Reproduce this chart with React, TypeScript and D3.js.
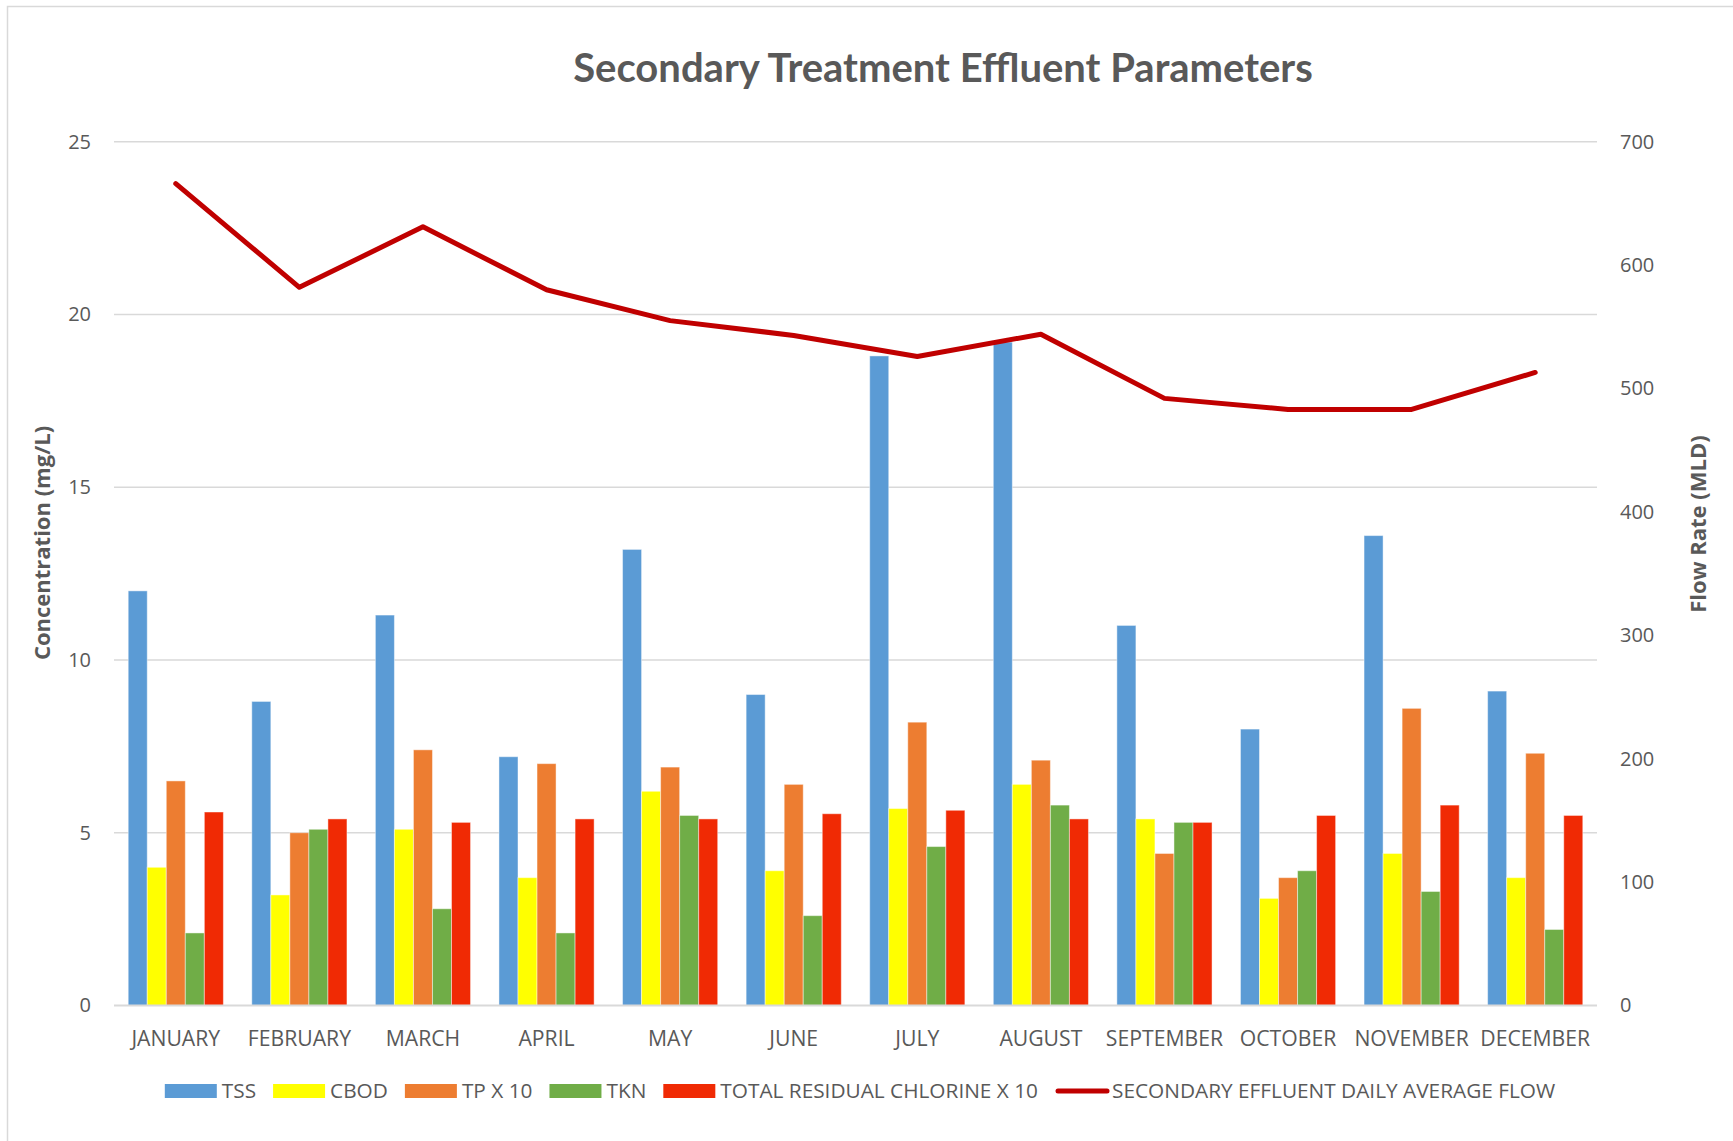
import { axisLeft, axisRight, line as Line, scaleBand, scaleLinear, select } from "d3";
import React, { useEffect, useRef } from "react";

const months = [
  "JANUARY", "FEBRUARY", "MARCH", "APRIL", "MAY", "JUNE",
  "JULY", "AUGUST", "SEPTEMBER", "OCTOBER", "NOVEMBER", "DECEMBER",
];

const tss = [12.0, 8.8, 11.3, 7.2, 13.2, 9.0, 18.8, 19.2, 11.0, 8.0, 13.6, 9.1];
const cbod = [4.0, 3.2, 5.1, 3.7, 6.2, 3.9, 5.7, 6.4, 5.4, 3.1, 4.4, 3.7];
const tpX10 = [6.5, 5.0, 7.4, 7.0, 6.9, 6.4, 8.2, 7.1, 4.4, 3.7, 8.6, 7.3];
const tkn = [2.1, 5.1, 2.8, 2.1, 5.5, 2.6, 4.6, 5.8, 5.3, 3.9, 3.3, 2.2];
const chlorineX10 = [5.6, 5.4, 5.3, 5.4, 5.4, 5.55, 5.65, 5.4, 5.3, 5.5, 5.8, 5.5];
const flow = [666, 582, 631, 580, 555, 543, 526, 544, 492, 483, 483, 513];

const leftTicks = [0, 5, 10, 15, 20, 25];
const rightTicks = [0, 100, 200, 300, 400, 500, 600, 700];

const seriesNames = ["TSS", "CBOD", "TP X 10", "TKN", "TOTAL RESIDUAL CHLORINE X 10"];
const seriesColors = ["#5B9BD5", "#FFFF00", "#ED7D31", "#70AD47", "#F02A04"];
const seriesValues = [tss, cbod, tpX10, tkn, chlorineX10];
const lineName = "SECONDARY EFFLUENT DAILY AVERAGE FLOW";
const lineColor = "#C00000";

const W = 1733;
const H = 1141;
const TEXT = "#595959";
const GRID = "#D9D9D9";
const LABEL_FONT = "'Open Sans', sans-serif";
const TITLE_FONT = "Lato, 'Open Sans', sans-serif";

const App: React.FC = () => {
  const ref = useRef<SVGSVGElement>(null);

  useEffect(() => {
    const svg = select(ref.current);
    const margin = { left: 114, right: W - 1597, top: 141.7, bottom: H - 1005.5 };

    const x0 = scaleBand<string>()
      .domain(months)
      .range([margin.left, W - margin.right])
      .paddingInner(0.23)
      .paddingOuter(0.115);
    const x1 = scaleBand<number>()
      .domain(seriesNames.map((_, i) => i))
      .range([0, x0.bandwidth()]);
    const yLeft = scaleLinear().domain([0, 25]).range([H - margin.bottom, margin.top]);
    const yRight = scaleLinear().domain([0, 700]).range([H - margin.bottom, margin.top]);

    const root = svg.append("g");

    // chart frame
    root
      .append("rect")
      .attr("x", 7.5)
      .attr("y", 6.5)
      .attr("width", W + 20)
      .attr("height", H + 20)
      .attr("fill", "#fff")
      .attr("stroke", GRID)
      .attr("stroke-width", 1.5);

    // gridlines
    root
      .append("g")
      .selectAll("line")
      .data(leftTicks.filter((t) => t > 0))
      .join("line")
      .attr("x1", margin.left)
      .attr("x2", W - margin.right)
      .attr("y1", (d) => yLeft(d))
      .attr("y2", (d) => yLeft(d))
      .attr("stroke", GRID)
      .attr("stroke-width", 1.5);

    // left axis
    const gl = root
      .append("g")
      .attr("transform", `translate(${margin.left},0)`)
      .call(axisLeft(yLeft).tickValues(leftTicks).tickSize(0).tickPadding(23));
    gl.select(".domain").remove();
    gl.selectAll("text")
      .attr("fill", TEXT)
      .attr("font-size", 20)
      .attr("font-family", LABEL_FONT);

    // right axis
    const gr = root
      .append("g")
      .attr("transform", `translate(${W - margin.right},0)`)
      .call(axisRight(yRight).tickValues(rightTicks).tickSize(0).tickPadding(23));
    gr.select(".domain").remove();
    gr.selectAll("text")
      .attr("fill", TEXT)
      .attr("font-size", 20)
      .attr("font-family", LABEL_FONT);

    // bars
    const groups = root
      .append("g")
      .selectAll("g")
      .data(months)
      .join("g")
      .attr("transform", (d) => `translate(${x0(d)},0)`);

    groups
      .selectAll("rect")
      .data((_, mi) => seriesValues.map((vals, si) => ({ si, v: vals[mi] })))
      .join("rect")
      .attr("x", (d) => x1(d.si) as number)
      .attr("width", x1.bandwidth())
      .attr("y", (d) => yLeft(d.v))
      .attr("height", (d) => yLeft(0) - yLeft(d.v))
      .attr("fill", (d) => seriesColors[d.si])
      .attr("stroke", "rgba(255,255,255,0.45)")
      .attr("stroke-width", 1);

    // baseline
    root
      .append("line")
      .attr("x1", margin.left)
      .attr("x2", W - margin.right)
      .attr("y1", yLeft(0))
      .attr("y2", yLeft(0))
      .attr("stroke", GRID)
      .attr("stroke-width", 2);

    // month labels
    root
      .append("g")
      .selectAll("text")
      .data(months)
      .join("text")
      .attr("x", (d) => (x0(d) as number) + x0.bandwidth() / 2)
      .attr("y", yLeft(0) + 40.5)
      .attr("text-anchor", "middle")
      .attr("fill", TEXT)
      .attr("font-size", 21.2)
      .attr("font-family", LABEL_FONT)
      .text((d) => d);

    // flow line
    const flowLine = Line<number>()
      .x((_, i) => (x0(months[i]) as number) + x0.bandwidth() / 2)
      .y((d) => yRight(d));
    root
      .append("path")
      .datum(flow)
      .attr("d", flowLine)
      .attr("fill", "none")
      .attr("stroke", lineColor)
      .attr("stroke-width", 5)
      .attr("stroke-linejoin", "round")
      .attr("stroke-linecap", "round");

    // title
    root
      .append("text")
      .attr("x", 943)
      .attr("y", 81.5)
      .attr("text-anchor", "middle")
      .attr("fill", TEXT)
      .attr("font-size", 40)
      .attr("font-weight", 700)
      .attr("font-family", TITLE_FONT)
      .text("Secondary Treatment Effluent Parameters");

    // axis titles
    root
      .append("text")
      .attr("transform", `translate(50,543) rotate(-90)`)
      .attr("text-anchor", "middle")
      .attr("fill", TEXT)
      .attr("font-size", 22)
      .attr("font-weight", 700)
      .attr("font-family", LABEL_FONT)
      .text("Concentration (mg/L)");
    root
      .append("text")
      .attr("transform", `translate(1706,524) rotate(-90)`)
      .attr("text-anchor", "middle")
      .attr("fill", TEXT)
      .attr("font-size", 22)
      .attr("font-weight", 700)
      .attr("font-family", LABEL_FONT)
      .text("Flow Rate (MLD)");

    // legend
    const legend = root.append("g");
    const items = [
      ...seriesNames.map((name, i) => ({ name, color: seriesColors[i], isLine: false })),
      { name: lineName, color: lineColor, isLine: true },
    ];
    const swatchW = 52;
    const legendY = 1091;
    let cursor = 0;
    items.forEach((it) => {
      const item = legend.append("g").attr("transform", `translate(${cursor},0)`);
      if (it.isLine) {
        item
          .append("line")
          .attr("x1", 3)
          .attr("x2", swatchW)
          .attr("y1", legendY)
          .attr("y2", legendY)
          .attr("stroke", it.color)
          .attr("stroke-width", 5)
          .attr("stroke-linecap", "round");
      } else {
        item
          .append("rect")
          .attr("x", 0)
          .attr("y", legendY - 7)
          .attr("width", swatchW)
          .attr("height", 14)
          .attr("fill", it.color);
      }
      const label = item
        .append("text")
        .attr("x", swatchW + 5)
        .attr("y", legendY + 7)
        .attr("fill", TEXT)
        .attr("font-size", 20.8)
        .attr("font-family", LABEL_FONT)
        .text(it.name);
      const tw = (label.node() as SVGTextElement).getComputedTextLength();
      cursor += swatchW + 5 + tw + 17;
    });
    cursor -= 17;
    legend.attr("transform", `translate(${860 - cursor / 2},0)`);

    return () => {
      root.remove();
    };
  }, []);

  return (
    <svg
      ref={ref}
      width={W}
      height={H}
      style={{ position: "absolute", left: 0, top: 0, background: "#fff" }}
    />
  );
};

export default App;
